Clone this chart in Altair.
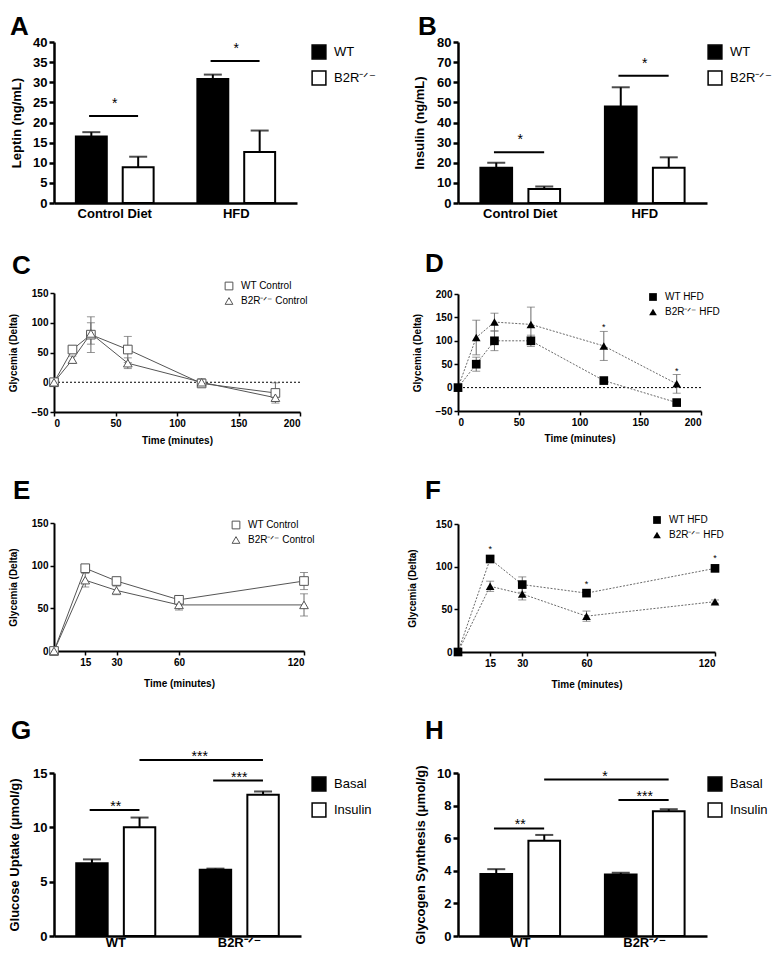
import altair as alt
import pandas as pd

FONT = "Liberation Sans"
KO = "B2R\u207b\u141f\u207b"

# ---------------- A: Leptin ----------------
a_groups = ["Control Diet", "HFD"]
a_series = ["WT", KO]
a_wt = [16.5, 30.8]
a_wt_top = [17.6, 31.9]
a_ko = [8.9, 12.7]
a_ko_top = [11.5, 18.0]
a_sig_y = [21.6, 35.3]
a_sig_txt = ["*", "*"]

# ---------------- B: Insulin ----------------
b_wt = [17.5, 48.0]
b_wt_top = [20.0, 57.5]
b_ko = [7.0, 17.5]
b_ko_top = [8.2, 22.7]
b_sig_y = [25.2, 63.2]
b_sig_txt = ["*", "*"]

# ---------------- C: control diet curve ----------------
c_time = [0, 15, 30, 60, 120, 180]
c_series = ["WT Control", KO + " Control"]
c_wt = [0, 55, 80, 55, -2, -18]
c_wt_sem = [0, 5, 30, 22, 4, 17]
c_ko = [0, 38, 82, 32, 0, -26]
c_ko_sem = [0, 6, 18, 9, 6, 6]

# ---------------- D: HFD curve ----------------
d_series = ["WT HFD", KO + " HFD"]
d_wt = [0, 50, 100, 100, 15, -32]
d_wt_sem = [0, 15, 21, 12, 3, 3]
d_ko = [0, 107, 140, 135, 89, 8]
d_ko_sem = [0, 37, 19, 37, 31, 20]
d_star_t = [120, 180]
d_star_y = [133, 40]

# ---------------- E: control diet curve ----------------
e_time = [0, 15, 30, 60, 120]
e_wt = [0, 97, 82, 60, 82]
e_wt_sem = [0, 4, 4, 3, 10]
e_ko = [0, 83, 71, 54, 54]
e_ko_sem = [0, 8, 5, 6, 13]

# ---------------- F: HFD curve ----------------
f_wt = [0, 109, 79, 69, 98]
f_wt_sem = [0, 3, 9, 2, 2]
f_ko = [0, 77, 68, 42, 59]
f_ko_sem = [0, 6, 7, 6, 2]
f_star_t = [15, 60, 120]
f_star_y = [123, 82, 113]

# ---------------- G: glucose uptake ----------------
g_groups = ["WT", KO]
g_series = ["Basal", "Insulin"]
g_basal = [6.7, 6.1]
g_basal_top = [7.05, 6.2]
g_ins = [10.0, 13.0]
g_ins_top = [10.9, 13.3]
g_sig_y = [11.6, 14.3]
g_sig_txt = ["**", "***"]
g_cross_y = [16.2]
g_cross_txt = ["***"]

# ---------------- H: glycogen synthesis ----------------
h_basal = [3.8, 3.78]
h_basal_top = [4.1, 3.88]
h_ins = [5.85, 7.65]
h_ins_top = [6.2, 7.78]
h_sig_y = [6.6, 8.35]
h_sig_txt = ["**", "***"]
h_cross_y = [9.6]
h_cross_txt = ["*"]


def letter_layer(letter, lx, ly):
    # panel letter annotation (not data)
    return alt.Chart(pd.DataFrame({"letter": [letter]})).mark_text(
        font=FONT, fontSize=26, fontWeight="bold", align="left", baseline="top",
        color="black").encode(x=alt.value(lx), y=alt.value(ly), text="letter:N")


def bar_panel(letter, groups, series, v1, t1, v2, t2, sig_y, sig_txt, ytitle,
              ymax, ystep, width, height, gap, leg_x, leg_y, title_x, star_dy,
              lx, ly, xlab_pad=4, cross_y=None, cross_txt=None):
    total = height + gap
    rows = []
    for i, g in enumerate(groups):
        rows.append({"group": g, "series": series[0], "value": v1[i], "top": t1[i]})
        rows.append({"group": g, "series": series[1], "value": v2[i], "top": t2[i]})
    df = pd.DataFrame(rows)
    sig = pd.DataFrame({"group": groups, "y": sig_y, "label": sig_txt})

    xscale = alt.Scale(domain=groups, paddingInner=0.36, paddingOuter=0.18)
    xaxis = alt.Axis(labelAngle=0, ticks=False, domainColor="black", domainWidth=2.5,
                     labelFont=FONT, labelFontSize=13, labelFontWeight="bold",
                     labelColor="black", labelPadding=xlab_pad, title=None)
    yscale = alt.Scale(domain=[0, ymax], nice=False, range=[total, gap])
    yaxis = alt.Axis(values=list(range(0, ymax + 1, ystep)), grid=False,
                     domainColor="black", domainWidth=2.5, tickColor="black",
                     tickWidth=2.5, tickSize=5, labelFont=FONT, labelFontSize=13,
                     labelFontWeight="bold", labelColor="black", labelPadding=2,
                     titleFont=FONT, titleFontSize=13, titleFontWeight="bold",
                     titleColor="black", titleX=title_x, titleY=gap + height / 2,
                     titleBaseline="middle")

    def X(field, bp=None):
        kw = {} if bp is None else {"bandPosition": bp}
        return alt.X(field + ":N", scale=xscale, axis=xaxis, **kw)

    def Y(field):
        return alt.Y(field + ":Q", scale=yscale, axis=yaxis, title=ytitle)

    xoff = alt.XOffset("series:N", scale=alt.Scale(domain=series, paddingInner=0.34))
    fill = alt.Fill("series:N", scale=alt.Scale(domain=series, range=["black", "white"]),
                    legend=alt.Legend(orient="none", legendX=leg_x, legendY=leg_y,
                                      direction="vertical", title=None,
                                      symbolType="square", symbolSize=190,
                                      symbolStrokeColor="black", symbolStrokeWidth=1.5,
                                      labelFont=FONT, labelFontSize=13,
                                      labelColor="black", labelOffset=7, rowPadding=6))
    base = alt.Chart(df)
    bars = base.mark_bar(stroke="black", strokeWidth=2).encode(
        x=X("group"), xOffset=xoff, y=Y("value"), fill=fill)
    err = base.mark_rule(color="black", strokeWidth=2).encode(
        x=X("group"), xOffset=xoff, y=Y("value"), y2="top:Q")
    caps = base.mark_tick(color="black", thickness=2, size=18, orient="horizontal").encode(
        x=X("group"), xOffset=xoff, y=Y("top"))
    sline = alt.Chart(sig).mark_rule(color="black", strokeWidth=2).encode(
        x=X("group", 0.17), x2=alt.X2("group:N", bandPosition=0.8), y=Y("y"))
    stext = alt.Chart(sig).mark_text(font=FONT, fontSize=14, baseline="alphabetic",
                                     dy=star_dy, color="black").encode(
        x=X("group"), y=Y("y"), text="label:N")
    layers = [bars, err, caps, sline, stext]
    if cross_y is not None:
        cr = pd.DataFrame({"g1": [groups[0]], "g2": [groups[1]], "y": cross_y,
                           "label": cross_txt})
        layers.append(alt.Chart(cr).mark_rule(color="black", strokeWidth=2).encode(
            x=X("g1", 0.8), x2=alt.X2("g2:N", bandPosition=0.8), y=Y("y")))
        layers.append(alt.Chart(cr).mark_text(font=FONT, fontSize=14, baseline="alphabetic",
                                              dy=star_dy, color="black").encode(
            x=X("g2", 0.0), y=Y("y"), text="label:N"))
    layers.append(letter_layer(letter, lx, ly))
    return alt.layer(*layers).properties(width=width, height=total)


def line_panel(letter, times, series, m1, s1, m2, s2, filled, dashed, xdomain, xvals,
               ydomain, yvals, width, height, gap, leg_x, leg_y, title_x, xtitle_y,
               lx, ly, zero=False, star_t=None, star_y=None):
    total = height + gap
    rows = []
    for i, t in enumerate(times):
        for name, m, s in ((series[0], m1[i], s1[i]), (series[1], m2[i], s2[i])):
            rows.append({"t": t, "series": name, "mean": m, "lo": m - s, "hi": m + s})
    df = pd.DataFrame(rows)
    errdf = df[df["hi"] > df["lo"]]
    capdf = pd.concat([errdf.assign(c=errdf["lo"]), errdf.assign(c=errdf["hi"])])

    xscale = alt.Scale(domain=xdomain, nice=False)
    xaxis = alt.Axis(values=xvals, grid=False, domainColor="black", domainWidth=2,
                     tickColor="black", tickWidth=1.5, tickSize=4, labelFont=FONT,
                     labelFontSize=10, labelFontWeight="bold", labelColor="black",
                     labelPadding=2, titleFont=FONT, titleFontSize=10,
                     titleFontWeight="bold", titleColor="black", titleY=xtitle_y,
                     titleBaseline="middle")
    yscale = alt.Scale(domain=ydomain, nice=False, range=[total, gap])
    yaxis = alt.Axis(values=yvals, grid=False, domainColor="black", domainWidth=2,
                     tickColor="black", tickWidth=1.5, tickSize=4, labelFont=FONT,
                     labelFontSize=10, labelFontWeight="bold", labelColor="black",
                     labelPadding=2, titleFont=FONT, titleFontSize=10,
                     titleFontWeight="bold", titleColor="black", titleX=title_x,
                     titleY=gap + height / 2, titleBaseline="middle")

    def X(field):
        return alt.X(field + ":Q", scale=xscale, axis=xaxis, title="Time (minutes)")

    def Y(field):
        return alt.Y(field + ":Q", scale=yscale, axis=yaxis, title="Glycemia (Delta)")

    line_kw = {"strokeDash": [2, 1.5]} if dashed else {}
    lcol = "#6a6a6a" if filled else "#555555"

    layers = []
    if zero:
        zdf = pd.DataFrame({"z": [0]})
        layers.append(alt.Chart(zdf).mark_rule(color="black", strokeWidth=1,
                                               strokeDash=[2, 2]).encode(y=Y("z")))
    base = alt.Chart(df)
    layers.append(base.mark_line(color=lcol, strokeWidth=1, **line_kw).encode(
        x=X("t"), y=Y("mean"), detail="series:N"))
    layers.append(alt.Chart(errdf).mark_rule(color="#6a6a6a", strokeWidth=1).encode(
        x=X("t"), y=Y("lo"), y2="hi:Q"))
    layers.append(alt.Chart(capdf).mark_tick(color="#6a6a6a", thickness=1, size=8,
                                             orient="horizontal").encode(
        x=X("t"), y=Y("c")))
    if filled:
        pmark = base.mark_point(filled=True, color="black", size=75, opacity=1)
    else:
        pmark = base.mark_point(filled=False, color="#555555", fill="white",
                                strokeWidth=1, size=75, opacity=1)
    layers.append(pmark.encode(
        x=X("t"), y=Y("mean"),
        shape=alt.Shape("series:N", scale=alt.Scale(domain=series,
                                                    range=["square", "triangle-up"]),
                        legend=alt.Legend(orient="none", legendX=leg_x, legendY=leg_y,
                                          direction="vertical", title=None,
                                          symbolSize=60, labelFont=FONT,
                                          labelFontSize=10, labelColor="black",
                                          labelOffset=7, rowPadding=3,
                                          symbolStrokeWidth=1))))
    if star_t is not None:
        sdf = pd.DataFrame({"t": star_t, "y": star_y, "label": ["*"] * len(star_t)})
        layers.append(alt.Chart(sdf).mark_text(font=FONT, fontSize=9, baseline="middle",
                                               dy=2, color="black").encode(
            x=X("t"), y=Y("y"), text="label:N"))
    layers.append(letter_layer(letter, lx, ly))
    return alt.layer(*layers).properties(width=width, height=total)


pA = bar_panel("A", a_groups, a_series, a_wt, a_wt_top, a_ko, a_ko_top, a_sig_y,
               a_sig_txt, "Leptin (ng/mL)", 40, 5, 243, 161, 0, 257, 2, -37.5, -8,
               -44, -28)
pB = bar_panel("B", a_groups, a_series, b_wt, b_wt_top, b_ko, b_ko_top, b_sig_y,
               b_sig_txt, "Insulin (ng/mL)", 80, 10, 249, 161, 0, 249, 2, -39, -8,
               -40, -28)
pC = line_panel("C", c_time, c_series, c_wt, c_wt_sem, c_ko, c_ko_sem, False, False,
                [0, 200], [0, 50, 100, 150, 200], [-50, 150], [-50, 0, 50, 100, 150],
                246, 119, 90, 170, 78, -41, 28, -42, 50, zero=True)
pD = line_panel("D", c_time, d_series, d_wt, d_wt_sem, d_ko, d_ko_sem, True, True,
                [0, 200], [0, 50, 100, 150, 200], [-50, 200],
                [-50, 0, 50, 100, 150, 200], 243, 117, 91, 190, 89, -40.5, 27, -33, 48,
                zero=True, star_t=d_star_t, star_y=d_star_y)
pE = line_panel("E", e_time, c_series, e_wt, e_wt_sem, e_ko, e_ko_sem, False, False,
                [0, 120], [15, 30, 60, 120], [0, 150], [0, 50, 100, 150],
                250, 128, 111, 177, 108, -41, 32, -41, 66)
pF = line_panel("F", e_time, d_series, f_wt, f_wt_sem, f_ko, f_ko_sem, True, True,
                [0, 120], [15, 30, 60, 120], [0, 150], [0, 50, 100, 150],
                257, 128, 112, 194, 103, -45.5, 32, -33, 66,
                star_t=f_star_t, star_y=f_star_y)
pG = bar_panel("G", g_groups, g_series, g_basal, g_basal_top, g_ins, g_ins_top, g_sig_y,
               g_sig_txt, "Glucose Uptake (\u03bcmol/g)", 15, 5, 247, 163, 121, 257, 124,
               -39.5, 1, -43, 66, xlab_pad=0, cross_y=g_cross_y, cross_txt=g_cross_txt)
pH = bar_panel("H", g_groups, g_series, h_basal, h_basal_top, h_ins, h_ins_top, h_sig_y,
               h_sig_txt, "Glycogen Synthesis (\u03bcmol/g)", 10, 2, 249, 163, 121, 249,
               124, -38, 1, -33, 66, xlab_pad=0, cross_y=h_cross_y, cross_txt=h_cross_txt)

chart = alt.concat(pA, pB, pC, pD, pE, pF, pG, pH, columns=2,
                   spacing={"row": 0, "column": 154}, bounds="flush",
                   padding={"top": 6, "left": 0, "right": 0, "bottom": 0}).resolve_scale(
    x="independent", y="independent", fill="independent", shape="independent",
    xOffset="independent").configure(font=FONT).configure_view(stroke=None)

chart.save("out.html", embed_options={"renderer": "svg", "actions": False})
